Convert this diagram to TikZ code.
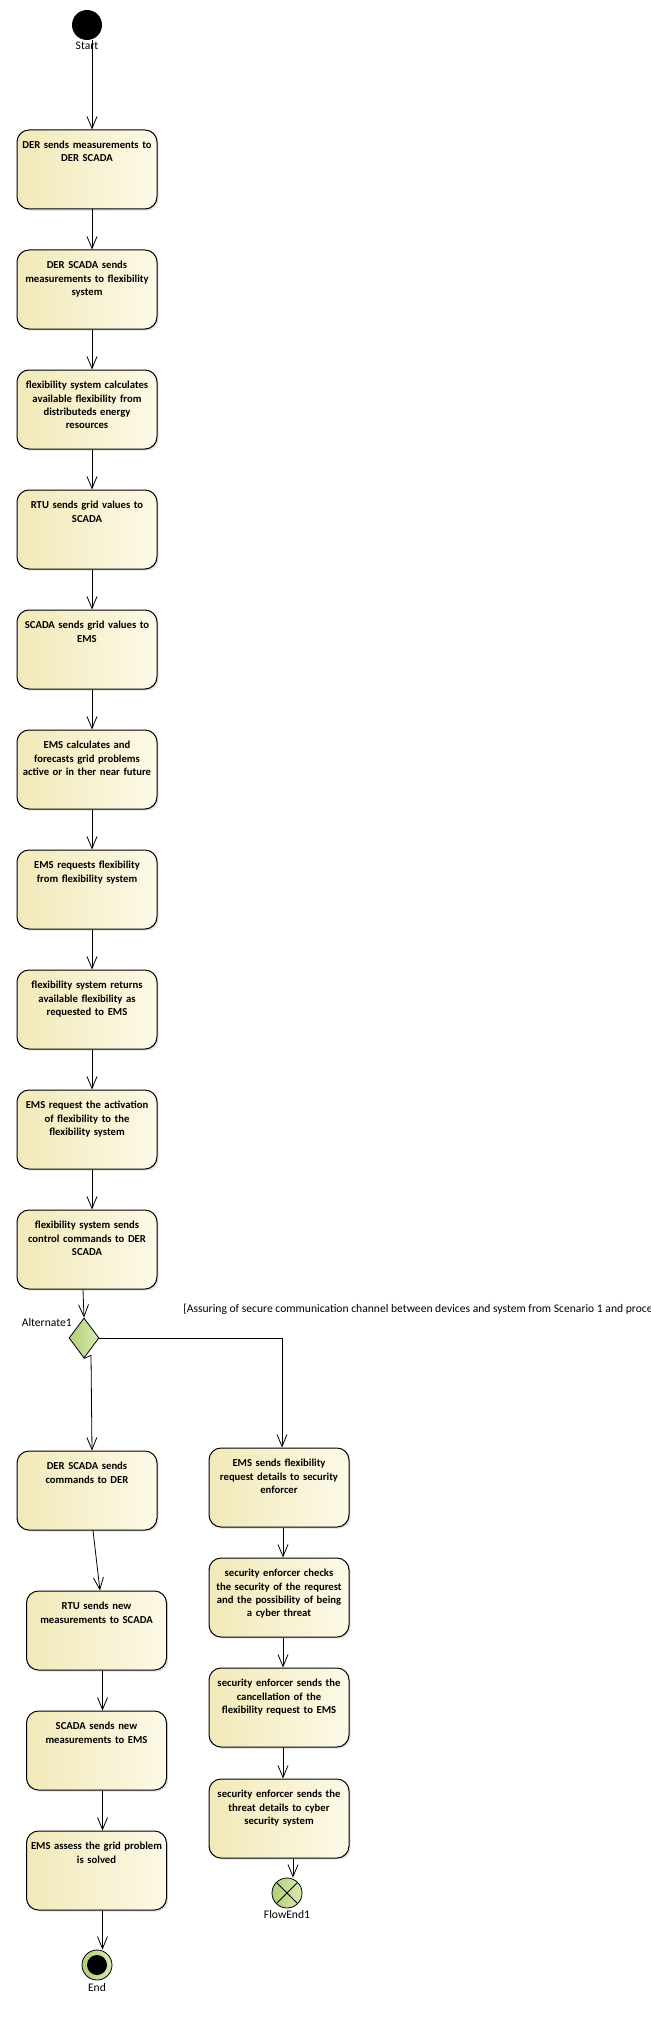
\documentclass[tikz,border=0pt]{standalone}
\usepackage{fontspec}
\setmainfont{Carlito}
\usetikzlibrary{arrows.meta,shapes.geometric,shadows}
\definecolor{actleft}{RGB}{242,233,185}
\definecolor{actright}{RGB}{252,249,231}
\definecolor{decleft}{RGB}{176,207,118}
\definecolor{decright}{RGB}{218,234,176}
\tikzset{
  act/.style={rectangle, rounded corners=9pt, draw, line width=0.75pt,
    text width=105pt, align=center, inner sep=0pt,
    text height=14pt, text depth=45.25pt,
    font=\fontsize{8}{10}\selectfont\bfseries,
    left color=actleft, right color=actright,
    drop shadow={opacity=0.25, shadow xshift=1.2pt, shadow yshift=-1.2pt}},
  flow/.style={-{Straight Barb[length=9pt,width=7.5pt]}, line width=0.6pt},
  lbl/.style={font=\fontsize{8.7}{10}\selectfont, inner sep=0pt},
  initial/.style={circle, fill=black, minimum size=22.5pt, inner sep=0pt},
  final/.style={circle, draw, line width=0.6pt, minimum size=22.5pt, inner sep=0pt,
    left color=decleft, right color=decright,
    path picture={\fill[black] (path picture bounding box.center) circle (7.5pt);}},
  flowfinal/.style={circle, draw, line width=0.6pt, minimum size=22.5pt, inner sep=0pt,
    left color=decleft, right color=decright,
    path picture={\draw (path picture bounding box.north west) -- (path picture bounding box.south east)
      (path picture bounding box.north east) -- (path picture bounding box.south west);}},
  decision/.style={diamond, draw, line width=0.6pt, minimum width=22.5pt, minimum height=30pt,
    inner sep=0pt, left color=decleft, right color=decright}
}
\begin{document}
\begin{tikzpicture}[x=0.75pt,y=-0.75pt]
            \path[fill=white] (0,0) rectangle (650,2026);
            \useasboundingbox (0,0) rectangle (650,2026);

            \node[initial] (Start) at (87,25) {};
            \node[lbl] (StartLbl) at (87,46) {Start};

            \node[act] (A1) at (87,169.5) {DER sends measurements to\\DER SCADA};
            \node[act] (A2) at (87,289.5) {DER SCADA sends\\measurements to flexibility\\system};
            \node[act] (A3) at (87,409.5) {flexibility system calculates\\available flexibility from\\distributeds energy\\resources};
            \node[act] (A4) at (87,529.5) {RTU sends grid values to\\SCADA};
            \node[act] (A5) at (87,649.5) {SCADA sends grid values to\\EMS};
            \node[act] (A6) at (87,769.5) {EMS calculates and\\forecasts grid problems\\active or in ther near future};
            \node[act] (A7) at (87,889.5) {EMS requests flexibility\\from flexibility system};
            \node[act] (A8) at (87,1009.5) {flexibility system returns\\available flexibility as\\requested to EMS};
            \node[act] (A9) at (87,1129.5) {EMS request the activation\\of flexibility to the\\flexibility system};
            \node[act] (A10) at (87,1249.5) {flexibility system sends\\control commands to DER\\SCADA};

            \node[decision] (Dec) at (84,1338) {};
            \node[lbl, anchor=base east] (DecLbl) at (72,1326.5) {Alternate1};
            \node[lbl, anchor=base west] (Guard) at (183,1312.5) {[Assuring of secure communication channel between devices and system from Scenario 1 and proce};

            \node[act] (L1) at (87,1490.5) {DER SCADA sends\\commands to DER};
            \node[act] (L2) at (96.5,1630.5) {RTU sends new\\measurements to SCADA};
            \node[act] (L3) at (96.5,1750.5) {SCADA sends new\\measurements to EMS};
            \node[act] (L4) at (96.5,1870.5) {EMS assess the grid problem\\is solved};
            \node[final] (End) at (97,1965) {};
            \node[lbl] (EndLbl) at (97,1987) {End};

            \node[act] (R1) at (279,1487.5) {EMS sends flexibility\\request details to security\\enforcer};
            \node[act] (R2) at (279,1597.5) {security enforcer checks\\the security of the requrest\\and the possibility of being\\a cyber threat};
            \node[act] (R3) at (279,1707.5) {security enforcer sends the\\cancellation of the\\flexibility request to EMS};
            \node[act] (R4) at (279,1818.5) {security enforcer sends the\\threat details to cyber\\security system};
            \node[flowfinal] (FlowEnd) at (287,1893) {};
            \node[lbl] (FlowEndLbl) at (287,1914) {FlowEnd1};

            \draw ([xshift=3.75pt]A1.north |- Start.south) edge[flow] ([xshift=3.75pt]A1.north);
            \draw ([xshift=3.75pt]A1.south) edge[flow] ([xshift=3.75pt]A2.north);
            \draw ([xshift=3.75pt]A2.south) edge[flow] ([xshift=3.75pt]A3.north);
            \draw ([xshift=3.75pt]A3.south) edge[flow] ([xshift=3.75pt]A4.north);
            \draw ([xshift=3.75pt]A4.south) edge[flow] ([xshift=3.75pt]A5.north);
            \draw ([xshift=3.75pt]A5.south) edge[flow] ([xshift=3.75pt]A6.north);
            \draw ([xshift=3.75pt]A6.south) edge[flow] ([xshift=3.75pt]A7.north);
            \draw ([xshift=3.75pt]A7.south) edge[flow] ([xshift=3.75pt]A8.north);
            \draw ([xshift=3.75pt]A8.south) edge[flow] ([xshift=3.75pt]A9.north);
            \draw ([xshift=3.75pt]A9.south) edge[flow] ([xshift=3.75pt]A10.north);
            \draw ([xshift=-3pt]A10.south) edge[flow] (Dec.north);

            \draw[flow] (Dec.south) -- ++(7,-3) -- ([xshift=3.75pt]L1.north);
            \draw[flow] (Dec.east) -| ([xshift=2.25pt]R1.north);

            \draw ([xshift=4.5pt]L1.south) edge[flow] ([xshift=2.6pt]L2.north);
            \draw ([xshift=4.5pt]L2.south) edge[flow] ([xshift=4.5pt]L3.north);
            \draw ([xshift=4.5pt]L3.south) edge[flow] ([xshift=4.5pt]L4.north);
            \draw ([xshift=4.5pt]L4.south) edge[flow] ([xshift=4.5pt]L4.south |- End.north);

            \draw ([xshift=3pt]R1.south) edge[flow] ([xshift=3pt]R2.north);
            \draw ([xshift=3pt]R2.south) edge[flow] ([xshift=3pt]R3.north);
            \draw ([xshift=3pt]R3.south) edge[flow] ([xshift=3pt]R4.north);
            \draw ([xshift=10.5pt]R4.south) edge[flow] ([xshift=10.5pt]R4.south |- FlowEnd.north);
\end{tikzpicture}
\end{document}
